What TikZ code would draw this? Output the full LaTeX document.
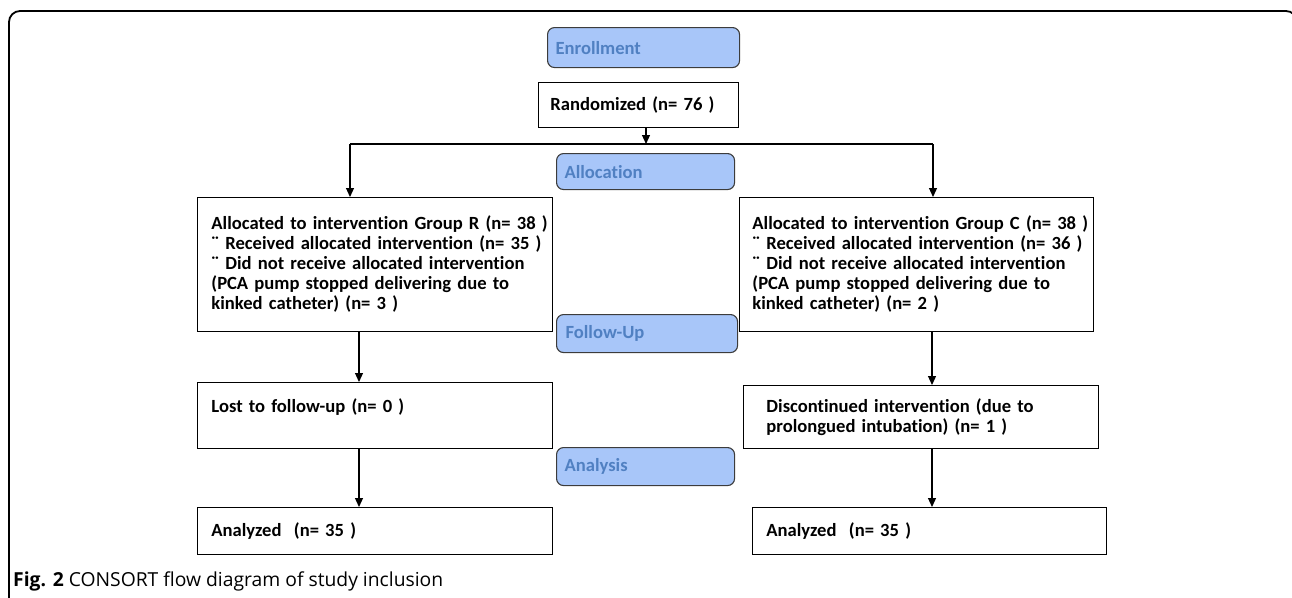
\documentclass[tikz,border=0pt]{standalone}
\usepackage{fontspec}
\setmainfont{Carlito}[Ligatures=NoCommon]
\newfontfamily\capfont{Open Sans}
\usetikzlibrary{arrows.meta}
\definecolor{lblfill}{RGB}{168,198,249}
\definecolor{lbltext}{RGB}{80,128,194}
\definecolor{lbldraw}{RGB}{60,60,60}
\tikzset{
  boxbase/.style={draw=black, line width=0.9pt, anchor=north west, inner ysep=0pt, align=left,
    font=\fontsize{18.6}{20}\selectfont\bfseries},
  lbl/.style={draw=lbldraw, fill=lblfill, line width=1.1pt, rounded corners=7pt, anchor=north west,
    inner ysep=0pt, inner xsep=8pt, text width=#1, align=left, text=lbltext,
    font=\fontsize{18.6}{20}\selectfont\bfseries},
  arr/.style={line width=1.2pt, -{Triangle[length=9pt,width=8pt]}},
  ln/.style={line width=1.2pt},
  frame/.style={line width=1.8pt, rounded corners=11pt}
}
\begin{document}
\begin{tikzpicture}[x=1pt,y=-1pt]
\useasboundingbox (0,0) rectangle (1292,597);
\draw[frame] (9,610) -- (9,11) -- (1297,11) -- (1297,610);

\node[lbl=176pt, minimum height=40pt] (enr) at (547,27) {Enrollment};
\node[boxbase, inner xsep=12pt, text width=176pt, minimum height=45pt] (rand) at (538,82) {Randomized (n= 76 )};
\node[lbl=162pt, minimum height=36pt] (alloc) at (556,153) {Allocation};

\node[boxbase, inner xsep=14pt, text width=327pt, minimum height=134pt] (grpR) at (197,197)
  {\mbox{Allocated to intervention Group R (n= 38 )}\\
   \mbox{¨ Received allocated intervention (n= 35 )}\\
   \mbox{¨ Did not receive allocated intervention}\\
   \mbox{(PCA pump stopped delivering due to}\\
   \mbox{kinked catheter) (n= 3 )}};
\node[boxbase, inner xsep=13pt, text width=328pt, minimum height=134pt] (grpC) at (739,197)
  {\mbox{Allocated to intervention Group C (n= 38 )}\\
   \mbox{¨ Received allocated intervention (n= 36 )}\\
   \mbox{¨ Did not receive allocated intervention}\\
   \mbox{(PCA pump stopped delivering due to}\\
   \mbox{kinked catheter) (n= 2 )}};

\node[lbl=163pt, inner xsep=9pt, minimum height=38pt] (fup) at (556,314) {Follow-Up};

\node[boxbase, inner xsep=14pt, text width=327pt, minimum height=66pt] (lost) at (197,382)
  {Lost to follow-up (n= 0 )\\ \mbox{}};
\node[boxbase, inner xsep=23pt, text width=309pt, minimum height=63pt] (disc) at (743,385)
  {\mbox{Discontinued intervention (due to}\\ \mbox{prolongued intubation) (n= 1 )}};

\node[lbl=162pt, minimum height=38pt] (ana) at (556,447) {Analysis};

\node[boxbase, inner xsep=14pt, text width=327pt, minimum height=47pt] (anL) at (197,507) {Analyzed~ (n= 35 )};
\node[boxbase, inner xsep=14pt, text width=326pt, minimum height=47pt] (anR) at (752,507) {Analyzed~ (n= 35 )};

\coordinate (split) at (646,144);
\coordinate (lt) at (350,144);
\coordinate (rt) at (933,144);
\coordinate (cl) at (359,0);
\coordinate (cr) at (932,0);

\draw[arr] (rand.south -| split) -- (split);
\draw[ln] (lt) -- (rt);
\draw[arr] (lt) -- (lt |- grpR.north);
\draw[arr] (rt) -- (rt |- grpC.north);
\draw[arr] (grpR.south -| cl) -- (lost.north -| cl);
\draw[arr] (grpC.south -| cr) -- (disc.north -| cr);
\draw[arr] (lost.south -| cl) -- (anL.north -| cl);
\draw[arr] (disc.south -| cr) -- (anR.north -| cr);

\node[anchor=base west, inner sep=0pt, font=\capfont\fontsize{19.3}{22}\selectfont] (cap) at (13,586)
  {\textbf{Fig. 2} CONSORT flow diagram of study inclusion};
\end{tikzpicture}
\end{document}
